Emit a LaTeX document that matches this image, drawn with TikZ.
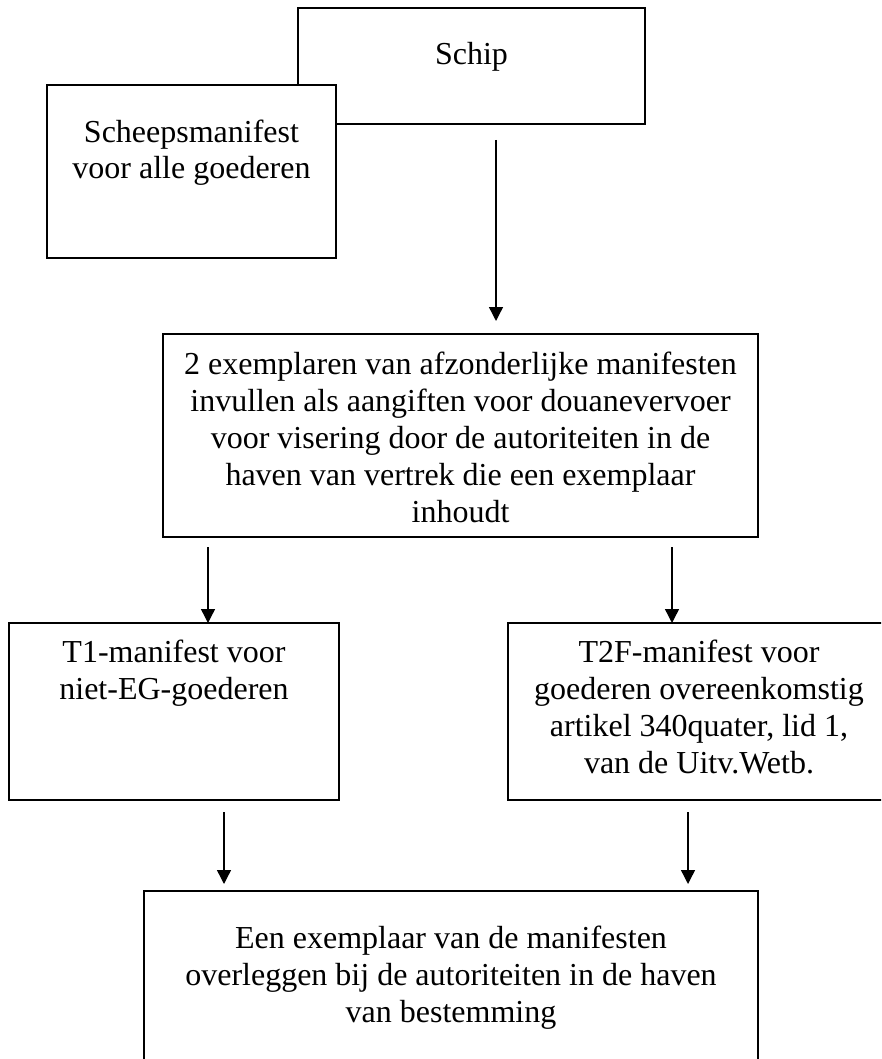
\documentclass[tikz,border=0pt]{standalone}
\usepackage{fontspec}
\setmainfont{Liberation Serif}
\usetikzlibrary{arrows.meta}
\tikzset{
  box/.style={draw=black, line width=1.8pt, fill=white, inner sep=0pt, outer sep=0pt, rectangle},
  txt/.style={font=\fontsize{32pt}{36.8pt}\selectfont, align=center, anchor=base, inner sep=0pt},
  arr/.style={line width=1.4pt, -{Triangle[length=14pt,width=14pt]}}
}
\begin{document}
\begin{tikzpicture}[x=1pt,y=-1pt]
\useasboundingbox (0,0) rectangle (881,1059);
\clip (0,0) rectangle (881,1059);
\fill[white] (0,0) rectangle (881,1059);
% boxes
\node[box, minimum width=347pt, minimum height=116pt] (schip) at (471.5,66) {};
\node[box, minimum width=289pt, minimum height=173pt] (scheeps) at (191.5,171.5) {};
\node[box, minimum width=595pt, minimum height=203pt] (mid) at (460.5,435.5) {};
\node[box, minimum width=330pt, minimum height=177pt] (tone) at (174,711.5) {};
\node[box, minimum width=382pt, minimum height=177pt] (ttwo) at (699,711.5) {};
\node[box, minimum width=614pt, minimum height=209pt] (bottom) at (451,995.5) {};
% texts (anchor = baseline of the last line)
\node[txt] (schipT) at (471.5,65) {Schip};
\node[txt] (scheepsT) at (191.5,179) {Scheepsmanifest\\voor alle goederen};
\node[txt] (midT) at (460.5,522) {2 exemplaren van afzonderlijke manifesten\\invullen als aangiften voor douanevervoer\\voor visering door de autoriteiten in de\\haven van vertrek die een exemplaar\\inhoudt};
\node[txt] (toneT) at (174,699) {T1-manifest voor\\niet-EG-goederen};
\node[txt] (ttwoT) at (699,773) {T2F-manifest voor\\goederen overeenkomstig\\artikel 340quater, lid 1,\\van de Uitv.Wetb.};
\node[txt] (bottomT) at (451,1022) {Een exemplaar van de manifesten\\overleggen bij de autoriteiten in de haven\\van bestemming};
% arrows
\draw[arr] ([xshift=24.5pt,yshift=-16pt]schip.south) -- ([xshift=35.5pt,yshift=13pt]mid.north);
\draw[arr] ([xshift=-252.5pt,yshift=-10pt]mid.south) -- ([xshift=34pt]tone.north);
\draw[arr] ([xshift=211.5pt,yshift=-10pt]mid.south) -- ([xshift=-27pt]ttwo.north);
\draw[arr] ([xshift=50pt,yshift=-12pt]tone.south) -- ([xshift=-227pt,yshift=7pt]bottom.north);
\draw[arr] ([xshift=-11pt,yshift=-12pt]ttwo.south) -- ([xshift=237pt,yshift=7pt]bottom.north);
\end{tikzpicture}
\end{document}
